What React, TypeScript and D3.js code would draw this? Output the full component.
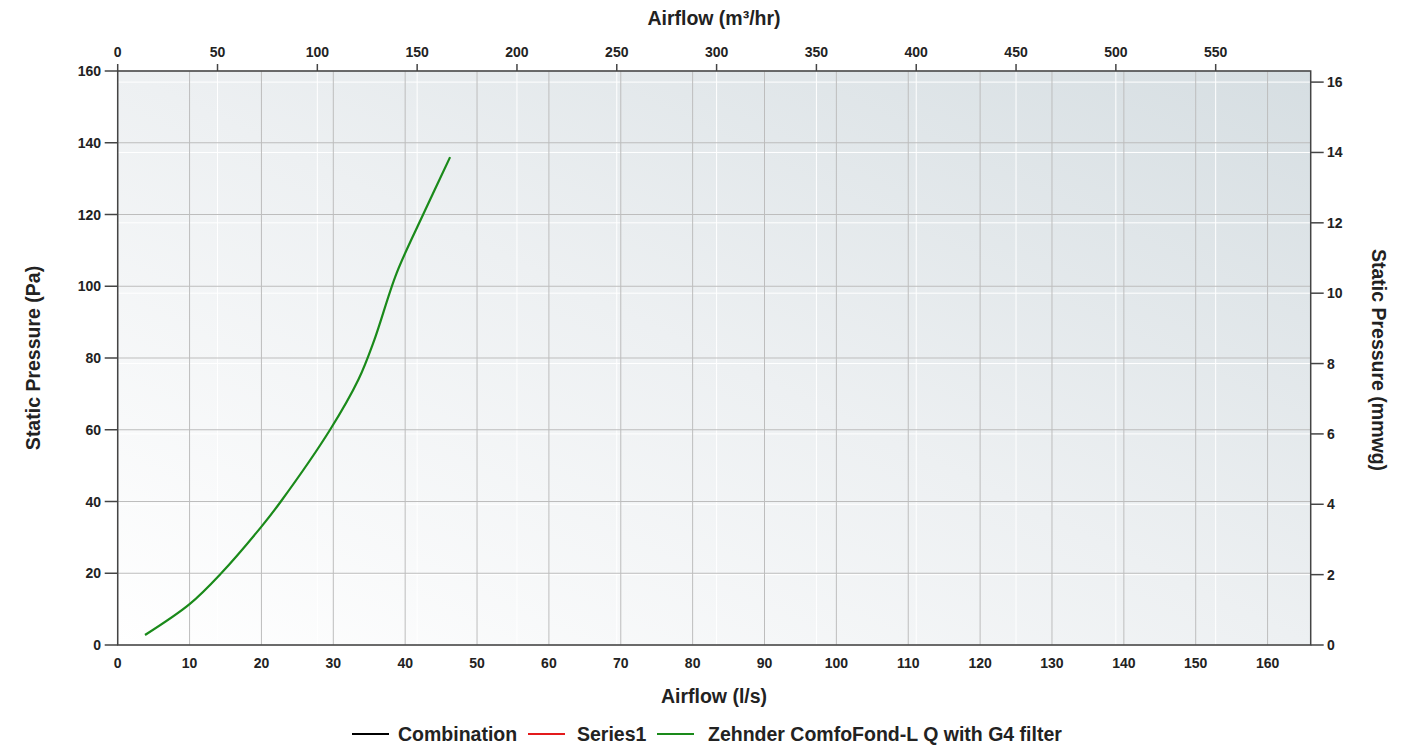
import React from "react";
import * as d3 from "d3";

const flowLs = [3.8, 10, 14.4, 20, 22.7, 29.55, 33.5, 35.7, 38.8, 42.5, 46.25];
const pressurePa = [2.8, 11.4, 20, 33, 40, 60, 74, 85, 103.6, 120, 136];
const bottomTicks = d3.range(0, 161, 10);
const topTicks = d3.range(0, 551, 50);
const leftTicks = d3.range(0, 161, 20);
const rightTicks = d3.range(0, 17, 2);
const legendItems = [
  { label: "Combination", color: "#000000" },
  { label: "Series1", color: "#e31a1c" },
  { label: "Zehnder ComfoFond-L Q with G4 filter", color: "#1a8a1a" },
];

const W = 1414, H = 746;
const L = 117.7, R = 1310.7, T = 71, B = 645;
const FONT = "'Liberation Sans', Arial, sans-serif";

export default function App() {
  const x = d3.scaleLinear().domain([0, 166]).range([L, R]);
  const xTop = d3.scaleLinear().domain([0, 166 * 3.6]).range([L, R]);
  const y = d3.scaleLinear().domain([0, 160]).range([B, T]);
  const yR = d3.scaleLinear().domain([0, 160 / 9.80665]).range([B, T]);
  const pts = flowLs.map((f, i) => [f, pressurePa[i]] as [number, number]);
  const line = d3.line<[number, number]>().x(d => x(d[0])).y(d => y(d[1])).curve(d3.curveCatmullRom.alpha(0.5));
  const legendLineX = [352, 528, 657];
  const legendTextX = [398, 577, 708];
  return (
    <svg width={W} height={H} style={{ position: "absolute", left: 0, top: 0 }} fontFamily={FONT} fontWeight="bold">
      <defs>
        <linearGradient id="bg" x1="0" y1="1" x2="1" y2="0">
          <stop offset="0" stopColor="#ffffff" />
          <stop offset="0.5" stopColor="#edf0f2" />
          <stop offset="1" stopColor="#d6dee2" />
        </linearGradient>
      </defs>
      <rect x={0} y={0} width={W} height={H} fill="#fff" />
      <rect x={L} y={T} width={R - L} height={B - T} fill="url(#bg)" />
      {topTicks.map(t => (
        <line key={"wt" + t} x1={xTop(t)} x2={xTop(t)} y1={T} y2={B} stroke="#ffffff" strokeWidth={1} />
      ))}
      {rightTicks.map(t => (
        <line key={"wr" + t} x1={L} x2={R} y1={yR(t)} y2={yR(t)} stroke="#ffffff" strokeWidth={1} />
      ))}
      {bottomTicks.map(t => (
        <line key={"gb" + t} x1={x(t)} x2={x(t)} y1={T} y2={B} stroke="#bdbdbd" strokeWidth={1} />
      ))}
      {leftTicks.map(t => (
        <line key={"gl" + t} x1={L} x2={R} y1={y(t)} y2={y(t)} stroke="#bdbdbd" strokeWidth={1} />
      ))}
      <rect x={L} y={T} width={R - L} height={B - T} fill="none" stroke="#444" strokeWidth={1.5} />
      {leftTicks.map(t => (
        <g key={"lt" + t}>
          <line x1={L - 13} x2={L} y1={y(t)} y2={y(t)} stroke="#444" strokeWidth={1.5} />
          <text x={101} y={y(t) + 5} textAnchor="end" fontSize={14} fill="#222">{t}</text>
        </g>
      ))}
      {rightTicks.map(t => (
        <g key={"rt" + t}>
          <line x1={R} x2={R + 13} y1={yR(t)} y2={yR(t)} stroke="#444" strokeWidth={1.5} />
          <text x={1327} y={yR(t) + 5} textAnchor="start" fontSize={14} fill="#222">{t}</text>
        </g>
      ))}
      {topTicks.map(t => (
        <g key={"tt" + t}>
          <line x1={xTop(t)} x2={xTop(t)} y1={T - 7} y2={T} stroke="#444" strokeWidth={1.5} />
          <text x={xTop(t)} y={57} textAnchor="middle" fontSize={14} fill="#222">{t}</text>
        </g>
      ))}
      {bottomTicks.map(t => (
        <text key={"bt" + t} x={x(t)} y={668} textAnchor="middle" fontSize={14} fill="#222">{t}</text>
      ))}
      <text x={714} y={25} textAnchor="middle" fontSize={19.5} fill="#222">Airflow (m³/hr)</text>
      <text x={714} y={703} textAnchor="middle" fontSize={19.5} fill="#222">Airflow (l/s)</text>
      <text transform={`translate(40,358) rotate(-90)`} textAnchor="middle" fontSize={19.5} fill="#222">Static Pressure (Pa)</text>
      <text transform={`translate(1372,360) rotate(90)`} textAnchor="middle" fontSize={19.5} fill="#222">Static Pressure (mmwg)</text>
      <path d={line(pts) || ""} fill="none" stroke="#1a8a1a" strokeWidth={2.2} />
      {legendItems.map((it, i) => (
        <g key={it.label}>
          <line x1={legendLineX[i]} x2={legendLineX[i] + 37} y1={734} y2={734} stroke={it.color} strokeWidth={2} />
          <text x={legendTextX[i]} y={741} fontSize={19.5} fill="#222">{it.label}</text>
        </g>
      ))}
    </svg>
  );
}
